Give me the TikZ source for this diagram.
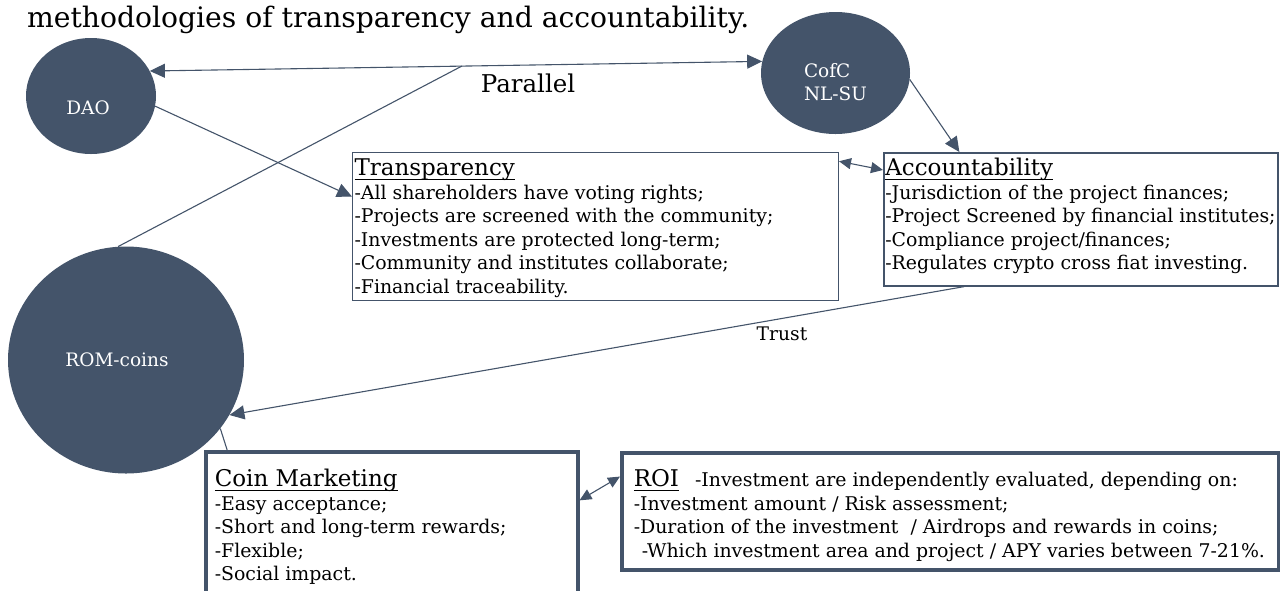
\documentclass[tikz,border=0pt]{standalone}
\usepackage{fontspec}
\setmainfont{DejaVu Serif}
\usepackage{xcolor}
\usepackage{tikz}
\usetikzlibrary{arrows, arrows.meta, shapes.geometric}
\definecolor{slate}{HTML}{44546A}
\newcommand{\ulin}[1]{\setbox0\hbox{#1}\rlap{\rule[-4.5pt]{\wd0}{1.5pt}}\box0}
\newcommand{\bodysize}{\fontsize{18.9}{23.5}\selectfont}
\newcommand{\headsize}{\fontsize{23}{23.5}\selectfont}

\begin{document}
\begin{tikzpicture}[x=1pt, y=-1pt,
	blob/.style={ellipse, fill=slate, draw=none, inner sep=0pt},
	blobtext/.style={text=white, font=\fontsize{18.5}{23}\selectfont, align=center},
	box/.style={rectangle, draw=slate, anchor=north west, align=left, inner ysep=0pt, font=\bodysize},
	lnk/.style={draw=slate, line width=1.1pt},
	tip/.style={-{Triangle[length=15pt, width=14pt]}},
	twoway/.style={{Triangle[length=15pt, width=14pt]}-{Triangle[length=15pt, width=14pt]}},
	twowaysmall/.style={{Triangle[length=12pt, width=11pt]}-{Triangle[length=12pt, width=11pt]}}]
				\useasboundingbox (0,0) rectangle (1280,590);
				\clip (0,0) rectangle (1280,590);
				\node[anchor=base west, inner sep=0pt, font=\fontsize{28.2}{32}\selectfont] (title) at (27,27) {methodologies of transparency and accountability.};
				\node[blob, minimum width=130, minimum height=116, label={[blobtext, xshift=-3pt, yshift=-12pt]center:DAO}] (dao) at (91,96) {};
				\node[blob, minimum width=149, minimum height=122, label={[blobtext, align=left, yshift=-9pt]center:{CofC\\NL-SU}}] (cofc) at (835.5,73) {};
				\node[blob, minimum width=236, minimum height=227, label={[blobtext, xshift=-9pt]center:ROM-coins}] (rom) at (126,360) {};
				\node[box, line width=1pt, inner xsep=2pt] (trans) at (352,152) {\makebox[482pt][l]{\rule{0pt}{23pt}{\headsize\ulin{Transparency}}}\\-All shareholders have voting rights;\\-Projects are screened with the community;\\-Investments are protected long-term;\\-Community and institutes collaborate;\\-Financial traceability.\rule[-7.5pt]{0pt}{7.5pt}};
				\node[box, line width=1.6pt, inner xsep=1.5pt] (acc) at (883,152) {\makebox[391pt][l]{\rule{0pt}{23pt}{\headsize\ulin{Accountability}}}\\-Jurisdiction of the project finances;\\-Project Screened by financial institutes;\\-Compliance project/finances;\\-Regulates crypto cross fiat investing.\rule[-16pt]{0pt}{16pt}};
				\node[box, line width=3.5pt, inner xsep=9pt] (coin) at (204,450) {\makebox[354pt][l]{\rule{0pt}{35pt}{\headsize\ulin{Coin Marketing}}}\\-Easy acceptance;\\-Short and long-term rewards;\\-Flexible;\\-Social impact.\rule[-21pt]{0pt}{21pt}};
				\node[box, line width=3.5pt, inner xsep=12pt] (roi) at (620,451) {\makebox[633pt][l]{\rule{0pt}{34pt}{\headsize\ulin{ROI}}\hspace{16pt}-Investment are independently evaluated, depending on:}\\-Investment amount / Risk assessment;\\-Duration of the investment~ / Airdrops and rewards in coins;\\\hspace*{8pt}-Which investment area and project / APY varies between 7-21\%.\rule[-12.5pt]{0pt}{12.5pt}};
				\node[font=\fontsize{24.5}{28}\selectfont] (parallel) at (528,83) {Parallel};
				\node[font=\fontsize{18.7}{22}\selectfont] (trust) at (782,334) {Trust};
				\coordinate (join) at (462,66);
				\draw[lnk, twoway] (dao.23) -- (cofc.171);
				\draw[lnk] (rom.94) -- (join);
				\draw[lnk, tip] (dao.-9) -- (trans.173);
				\draw[lnk, tip] (cofc.-5) -- (acc.151);
				\draw[lnk, twowaysmall] (trans.15) -- (acc.166);
				\draw[lnk, tip] (acc.210) -- (rom.-28);
				\draw[lnk] (rom.-36) -- (coin.155);
				\draw[lnk, twowaysmall] (coin.8) -- (roi.174);
			\end{tikzpicture}
\end{document}
